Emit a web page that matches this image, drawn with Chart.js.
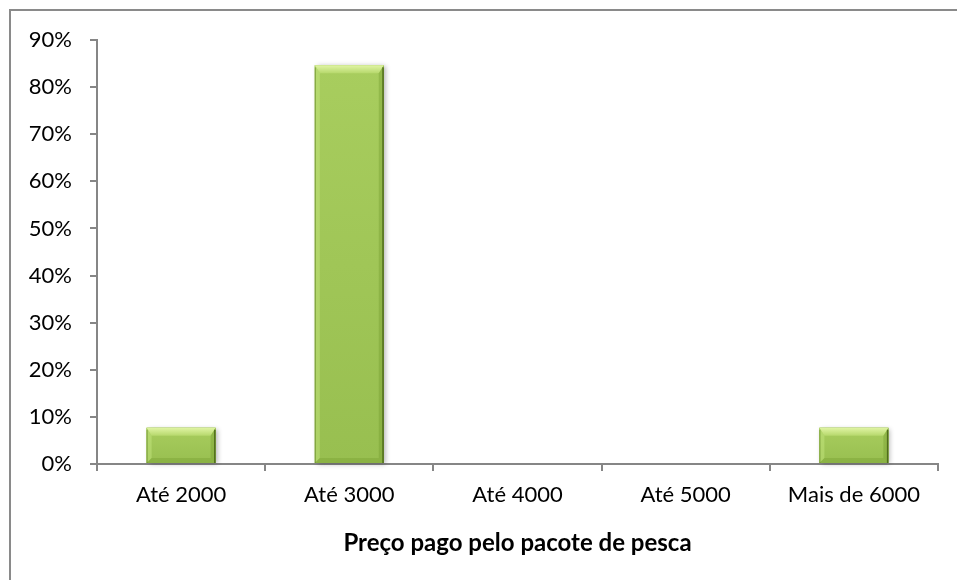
<!DOCTYPE html>
<html>
<head>
<meta charset="utf-8">
<script src="https://cdn.jsdelivr.net/npm/chart.js@4.4.0/dist/chart.umd.min.js"></script>
<style>
    html, body { margin: 0; padding: 0; background: #fff; overflow: hidden; }
    #wrap { position: relative; width: 957px; height: 580px; }
    #frame { position: absolute; left: 9px; top: 9px; width: 990px; height: 620px; border: 2px solid #8a8a8a; box-sizing: border-box; }
    #chart { position: absolute; left: 0; top: 0; }
</style>
</head>
<body>
<div id="wrap">
    <div id="frame"></div>
    <canvas id="chart" width="957" height="580"></canvas>
</div>
<script>
const categories = ['Até 2000', 'Até 3000', 'Até 4000', 'Até 5000', 'Mais de 6000'];
const shares = [7.69, 84.62, 0, 0, 7.69];
const yMax = 90;
const yStep = 10;
const xTitle = 'Preço pago pelo pacote de pesca';

const axisGrey = '#868686';
const fontFamily = 'Lato, "Open Sans", sans-serif';

// soft drop shadow under each bar
const shadowPlugin = {
    id: 'barShadow',
    beforeDatasetsDraw(chart) {
        const ctx = chart.ctx;
        chart.getDatasetMeta(0).data.forEach(bar => {
            const p = bar.getProps(['x', 'y', 'base', 'width'], true);
            if (p.base - p.y < 1) return;
            ctx.save();
            ctx.shadowColor = 'rgba(0,0,0,0.3)';
            ctx.shadowBlur = 5;
            ctx.shadowOffsetX = 2;
            ctx.shadowOffsetY = 1;
            ctx.fillStyle = '#9bbb59';
            ctx.fillRect(p.x - p.width / 2, p.y, p.width, p.base - p.y);
            ctx.restore();
        });
    }
};

// bevel look on top of the bars
const bevelPlugin = {
    id: 'bevel',
    afterDatasetsDraw(chart) {
        const ctx = chart.ctx;
        chart.getDatasetMeta(0).data.forEach(bar => {
            const p = bar.getProps(['x', 'y', 'base', 'width'], true);
            const h = p.base - p.y;
            if (h < 1) return;
            const l = p.x - p.width / 2, r = p.x + p.width / 2, t = p.y, b = p.base;
            const bv = Math.min(8, h / 3);
            const sv = 5;
            ctx.save();
            // face
            const face = ctx.createLinearGradient(0, t, 0, b);
            face.addColorStop(0, '#a8cd5e');
            face.addColorStop(1, '#98bf50');
            ctx.fillStyle = face;
            ctx.fillRect(l, t, r - l, h);
            // top bevel
            const top = ctx.createLinearGradient(0, t, 0, t + bv);
            top.addColorStop(0, '#e0f4a4');
            top.addColorStop(1, '#b6d86c');
            ctx.fillStyle = top;
            ctx.beginPath();
            ctx.moveTo(l, t); ctx.lineTo(r, t); ctx.lineTo(r - sv, t + bv); ctx.lineTo(l + sv, t + bv);
            ctx.closePath(); ctx.fill();
            // left bevel
            ctx.fillStyle = 'rgba(200,232,130,0.45)';
            ctx.beginPath();
            ctx.moveTo(l, t); ctx.lineTo(l + sv, t + bv); ctx.lineTo(l + sv, b - sv); ctx.lineTo(l, b);
            ctx.closePath(); ctx.fill();
            // right bevel
            ctx.fillStyle = 'rgba(110,150,40,0.35)';
            ctx.beginPath();
            ctx.moveTo(r, t); ctx.lineTo(r - sv, t + bv); ctx.lineTo(r - sv, b - sv); ctx.lineTo(r, b);
            ctx.closePath(); ctx.fill();
            // bottom bevel
            ctx.fillStyle = 'rgba(110,150,40,0.3)';
            ctx.beginPath();
            ctx.moveTo(l, b); ctx.lineTo(l + sv, b - sv); ctx.lineTo(r - sv, b - sv); ctx.lineTo(r, b);
            ctx.closePath(); ctx.fill();
            // dark outer edges
            ctx.fillStyle = '#506c1c';
            ctx.fillRect(r - 1.5, t + 2, 1.5, h - 2);
            ctx.fillStyle = 'rgba(90,125,30,0.6)';
            ctx.fillRect(l, t + 2, 1, h - 2);
            ctx.restore();
        });
    }
};

const ctx = document.getElementById('chart').getContext('2d');
const chart = new Chart(ctx, {
    type: 'bar',
    data: {
        labels: categories,
        datasets: [{
            data: shares,
            backgroundColor: '#9fc258',
            borderWidth: 0,
            barPercentage: 0.41,
            categoryPercentage: 1
        }]
    },
    options: {
        responsive: false,
        animation: false,
        layout: { padding: { left: 0, top: 40, right: 19, bottom: 0 } },
        plugins: {
            legend: { display: false },
            tooltip: { enabled: false }
        },
        scales: {
            y: {
                min: 0,
                max: yMax,
                afterFit: scale => { scale.width = 97; },
                ticks: {
                    stepSize: yStep,
                    padding: 18,
                    color: '#000',
                    font: { family: fontFamily, size: 22 },
                    callback: v => v + '%'
                },
                grid: { drawOnChartArea: false, drawTicks: true, tickLength: 7, color: axisGrey, lineWidth: 2 },
                border: { display: true, color: axisGrey, width: 2 }
            },
            x: {
                afterFit: scale => { scale.height = 116; },
                ticks: {
                    padding: 11,
                    color: '#000',
                    font: { family: fontFamily, size: 22 },
                    maxRotation: 0
                },
                grid: { offset: true, drawOnChartArea: false, drawTicks: true, tickLength: 7, color: axisGrey, lineWidth: 2 },
                border: { display: true, color: axisGrey, width: 2 },
                title: {
                    display: true,
                    text: xTitle,
                    color: '#000',
                    font: { family: fontFamily, size: 24, weight: 'bold' },
                    padding: { top: 0, bottom: 22 }
                }
            }
        }
    },
    plugins: [shadowPlugin, bevelPlugin]
});
</script>
</body>
</html>
